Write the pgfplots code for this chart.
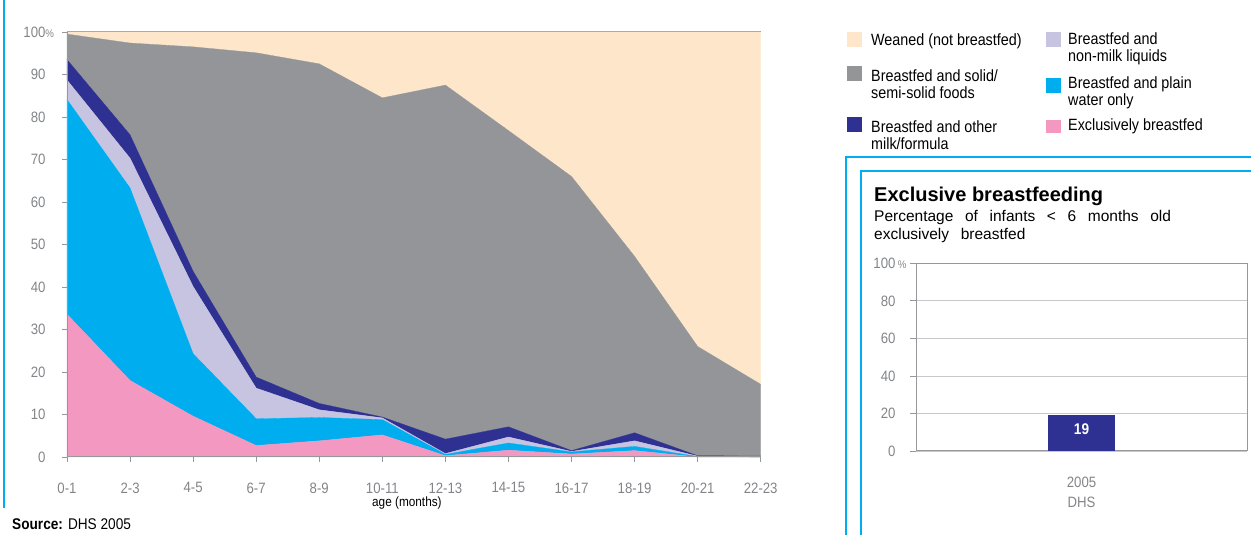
\documentclass[border=0pt]{standalone}
\usepackage{pgfplots}
\pgfplotsset{compat=1.18}
\usepackage{fontspec}
\setmainfont{Liberation Sans}
\newfontfamily\cond{Liberation Sans}[FakeStretch=0.88]
\newfontfamily\subfont{Liberation Sans}[WordSpace=2.7]

\definecolor{cWeaned}{RGB}{253,230,201}
\definecolor{cSolid}{RGB}{147,149,152}
\definecolor{cFormula}{RGB}{46,49,146}
\definecolor{cLiquids}{RGB}{199,196,226}
\definecolor{cWater}{RGB}{0,174,239}
\definecolor{cExcl}{RGB}{243,153,193}
\definecolor{axisgray}{RGB}{150,152,155}
\definecolor{tickgray}{RGB}{130,132,135}
\definecolor{gridgray}{RGB}{200,200,202}

\begin{document}
\begin{tikzpicture}
\path[use as bounding box] (0,0) rectangle (1251pt,535pt);

% left border
\draw[cWater, line width=2.5pt] (4pt,27pt) -- (4pt,535pt);

% main stacked area chart
\begin{axis}[
  at={(67pt,78pt)}, anchor=south west,
  scale only axis, width=693.7pt, height=425pt,
  xmin=0, xmax=11, ymin=0, ymax=100,
  stack plots=y, area style,
  axis on top,
  axis x line*=bottom, axis y line*=left,
  axis line style={draw=axisgray, line width=1pt},
  xtick={0,...,11},
  xticklabels={0-1,2-3,4-5,6-7,8-9,10-11,12-13,14-15,16-17,18-19,20-21,22-23},
  ytick={0,10,...,100},
  yticklabels={0,10,20,30,40,50,60,70,80,90,{100\rlap{\fontsize{11}{11}\selectfont\%}}},
  tick align=outside, major tick length=5pt,
  tick style={draw=axisgray, line width=0.8pt},
  ticklabel style={font=\cond\fontsize{15}{15}\selectfont, text=tickgray},
  xticklabel style={yshift=-17pt},
  yticklabel style={xshift=-13pt},
  clip=false,
]
% exclusively breastfed
\addplot[fill=cExcl, draw=cExcl, line width=0.3pt] coordinates
  {(0,33.6) (1,18.0) (2,9.6) (3,2.7) (4,3.8) (5,5.2) (6,0.3) (7,1.6) (8,0.7) (9,1.5) (10,0) (11,0)} \closedcycle;
% plain water only
\addplot[fill=cWater, draw=cWater, line width=0.3pt] coordinates
  {(0,50.5) (1,45.3) (2,14.7) (3,6.3) (4,5.5) (5,3.6) (6,0.3) (7,1.7) (8,0.5) (9,1.0) (10,0.1) (11,0)} \closedcycle;
% non-milk liquids
\addplot[fill=cLiquids, draw=cLiquids, line width=0.3pt] coordinates
  {(0,4.6) (1,7.0) (2,15.8) (3,7.2) (4,1.8) (5,0.4) (6,0.2) (7,1.4) (8,0.1) (9,1.3) (10,0.1) (11,0)} \closedcycle;
% other milk/formula
\addplot[fill=cFormula, draw=cFormula, line width=0.3pt] coordinates
  {(0,4.8) (1,5.5) (2,3.6) (3,2.6) (4,1.5) (5,0.2) (6,3.4) (7,2.4) (8,0.2) (9,1.9) (10,0.1) (11,0.2)} \closedcycle;
% solid/semi-solid foods
\addplot[fill=cSolid, draw=cSolid, line width=0.3pt] coordinates
  {(0,6.0) (1,21.6) (2,52.8) (3,76.3) (4,79.9) (5,75.1) (6,83.3) (7,69.7) (8,64.5) (9,41.5) (10,25.7) (11,16.9)} \closedcycle;
% weaned
\addplot[fill=cWeaned, draw=cWeaned, line width=0.3pt] coordinates
  {(0,0.5) (1,2.6) (2,3.5) (3,4.9) (4,7.5) (5,15.5) (6,12.5) (7,23.2) (8,34.0) (9,52.8) (10,74.0) (11,82.9)} \closedcycle;

\draw[axisgray, line width=1pt] (rel axis cs:0,1) -- (rel axis cs:1,1);
\node[font=\cond\fontsize{13.4}{13.4}\selectfont, text=black] at (rel axis cs:0.49,0) [yshift=-46pt] {age (months)};
\end{axis}

% source
\node[anchor=base west, inner sep=0pt, font=\cond\fontsize{15.5}{15.5}\selectfont] at (12pt,5pt) {\textbf{Source:} DHS 2005};

% legend
\begin{scope}[font=\cond\fontsize{16.3}{16.3}\selectfont]
  \fill[cWeaned]  (847pt,488.3pt) rectangle (862pt,503.3pt);
  \node[anchor=west, inner sep=0pt] at (871pt,494pt) {Weaned (not breastfed)};
  \fill[cSolid]   (847pt,454pt) rectangle (862pt,469.3pt);
  \node[anchor=west, align=left, inner sep=0pt] at (871pt,451pt) {Breastfed and solid/\\[0.3pt]semi-solid foods};
  \fill[cFormula] (847pt,402.7pt) rectangle (862pt,418.3pt);
  \node[anchor=west, align=left, inner sep=0pt] at (871pt,400pt) {Breastfed and other\\[0.3pt]milk/formula};
  \fill[cLiquids] (1046pt,488.3pt) rectangle (1061pt,503.3pt);
  \node[anchor=west, align=left, inner sep=0pt] at (1068pt,486pt) {Breastfed and\\[0.3pt]non-milk liquids};
  \fill[cWater]   (1046pt,442pt) rectangle (1061pt,457pt);
  \node[anchor=west, align=left, inner sep=0pt] at (1068pt,442pt) {Breastfed and plain\\[0.3pt]water only};
  \fill[cExcl] (1046pt,402.3pt) rectangle (1061pt,415pt);
  \node[anchor=west, inner sep=0pt] at (1068pt,409pt) {Exclusively breastfed};
\end{scope}

% inset frames
\draw[cWater, line width=2.3pt] (846pt,0pt) -- (846pt,377.7pt) -- (1251pt,377.7pt);
\draw[cWater, line width=2.3pt] (861pt,0pt) -- (861pt,364pt) -- (1251pt,364pt);

\node[anchor=base west, inner sep=0pt, font=\bfseries\fontsize{20}{20}\selectfont] at (874pt,333.3pt) {Exclusive breastfeeding};
\node[anchor=base west, inner sep=0pt, font=\subfont\fontsize{15.5}{15.5}\selectfont] at (874pt,313.3pt) {Percentage of infants < 6 months old};
\node[anchor=base west, inner sep=0pt, font=\subfont\fontsize{15.5}{15.5}\selectfont] at (874pt,295.8pt) {exclusively breastfed};

% inset bar chart
\begin{axis}[
  at={(916pt,84pt)}, anchor=south west,
  scale only axis, width=331pt, height=187.7pt,
  xmin=-1, xmax=1, ymin=0, ymax=100,
  ybar, bar width=67pt,
  ytick={0,20,...,100},
  yticklabels={0,20,40,60,80,{100\rlap{\,\fontsize{11}{11}\selectfont\%}}},
  ymajorgrids, grid style={draw=gridgray, line width=0.8pt},
  axis line style={draw=axisgray, line width=1pt},
  xtick={0}, xticklabels={{2005\\DHS}},
  xtick style={draw=none},
  ytick pos=left, tick align=outside, major tick length=6pt,
  ytick style={draw=axisgray, line width=0.8pt},
  ticklabel style={font=\cond\fontsize{15}{15}\selectfont, text=tickgray},
  xticklabel style={align=center, yshift=-16pt, font=\cond\fontsize{15}{20}\selectfont},
  yticklabel style={xshift=-11pt},
  /pgf/number format/assume math mode=true,
  nodes near coords,
  nodes near coords align={below},
  every node near coord/.append style={font=\cond\bfseries\fontsize{15.5}{15.5}\selectfont, text=white, yshift=-5pt},
]
\addplot[fill=cFormula, draw=none] coordinates {(0,19)};
\end{axis}
\end{tikzpicture}
\end{document}
